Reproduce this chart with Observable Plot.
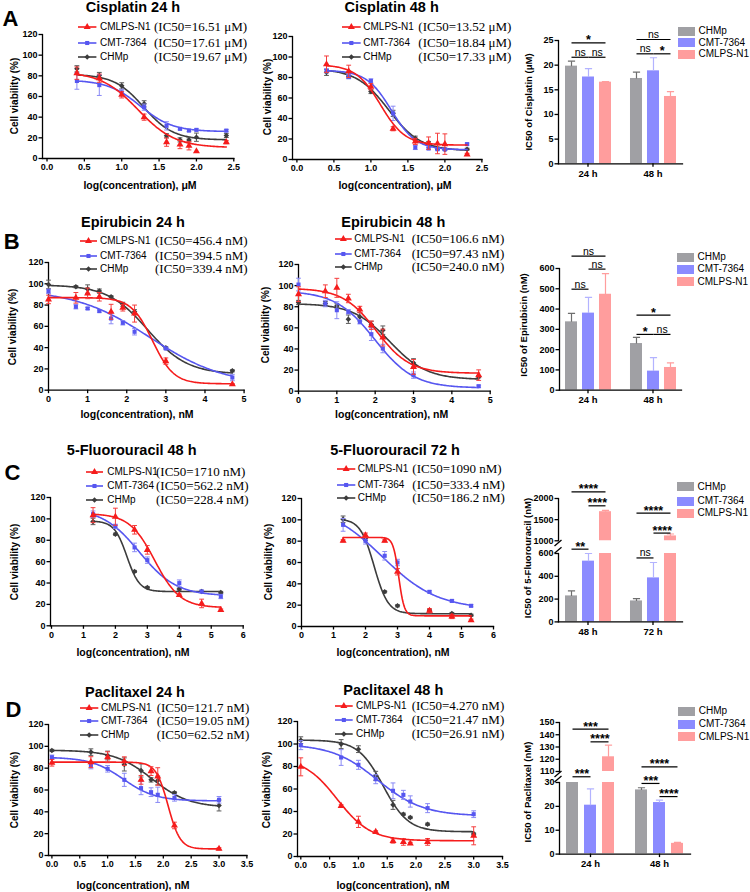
<!DOCTYPE html>
<html>
<head>
<meta charset="utf-8">
<script src="https://cdn.jsdelivr.net/npm/d3@7"></script>
<script src="https://cdn.jsdelivr.net/npm/@observablehq/plot@0.6"></script>
<style>
  html, body { margin: 0; padding: 0; background: #fff; }
  #fig { position: relative; width: 750px; height: 892px; overflow: hidden;
         font-family: "Liberation Sans", Arial, sans-serif; color: #000; }
  .abs { position: absolute; white-space: nowrap; line-height: 1; }
  .center { transform: translate(-50%, -50%); }
  .left { transform: translate(0, -50%); }
  .title { font-weight: bold; font-size: 14.5px; }
  .letter { font-weight: bold; font-size: 22px; }
  .ylab { font-weight: bold; font-size: 10px; transform: translate(-50%, -50%) rotate(-90deg); }
  .xlab { font-weight: bold; font-size: 10.5px; }
  .legname { font-size: 10px; }
  .ic { font-family: "Liberation Serif", "Times New Roman", serif; font-size: 13px; line-height: 0.85; }
  .panel { position: absolute; }
  .panel svg { overflow: visible; }
</style>
</head>
<body>
<div id="fig"></div>
<script>
// ---------------- series, doses, ticks ----------------
const lineSeries = ["CMLPS-N1", "CMT-7364", "CHMp"];
const barSeries = ["CHMp", "CMT-7364", "CMLPS-N1"];

const cisplatinDoses24 = [0.4, 0.7, 1.0, 1.3, 1.6, 1.78, 1.9, 2.0, 2.4];
const cisplatinDoses48 = [0.4, 0.7, 1.0, 1.3, 1.6, 1.78, 1.9, 2.0, 2.3];
const epirubicinDoses = [0, 0.7, 1.0, 1.3, 1.6, 1.9, 2.2, 3.0, 4.7];
const fluorouracilDoses = [1.3, 2.0, 2.6, 3.0, 4.0, 4.7, 5.3];
const paclitaxelDoses = [0, 0.7, 1.0, 1.3, 1.6, 1.78, 1.9, 2.2, 3.0];

const viabilityTicks = [0, 20, 40, 60, 80, 100, 120];
const cisplatinXTicks = [0, 0.5, 1, 1.5, 2, 2.5];
const epirubicinXTicks = [0, 1, 2, 3, 4, 5];
const fluorouracilXTicks = [0, 1, 2, 3, 4, 5, 6];
const paclitaxelXTicks = [0, 0.5, 1, 1.5, 2, 2.5, 3, 3.5];

// ---------------- viability (%), rows in lineSeries order ----------------
const cis24Mean = [
  [82.6, 77.7, 61.6, 40.0, 15.8, 13.5, 12.3, 7.0, 15.8],
  [75.0, 71.0, 64.0, 49.7, 31.6, 28.7, 27.0, 27.7, 27.0],
  [86.8, 80.3, 70.3, 52.9, 22.0, 18.0, 18.0, 20.6, 22.3]];
const cis24Sd = [
  [6, 4, 3, 3, 4, 4, 4, 0, 1.5],
  [8, 10, 3, 3, 4, 1, 1, 1, 1],
  [3, 3, 3, 3, 2, 2, 2, 4, 2]];
const cis24IC50 = ["16.51", "17.61", "19.67"];
const cis24Fit = [[84, 10.5, 1.75], [76, 26, 2.0], [81.5, 18, 2.2]]; // top, bottom, Hill slope

const cis48Mean = [
  [93.0, 86.0, 71.0, 30.0, 17.6, 16.0, 15.6, 15.0, 5.0],
  [86.5, 80.7, 76.7, 45.0, 11.7, 10.7, 10.0, 9.8, 15.0],
  [85.0, 81.3, 66.3, 45.0, 20.8, 15.6, 10.7, 9.8, 10.0]];
const cis48Sd = [
  [8, 6, 3, 2, 3, 6, 10, 10, 1],
  [2, 2, 2, 7, 2, 1, 1, 1, 1],
  [3, 2, 2, 3, 2, 2, 1, 1, 1]];
const cis48IC50 = ["13.52", "18.84", "17.33"];
const cis48Fit = [[92.5, 14, 2.6], [87, 9.5, 2.6], [88.5, 8.5, 2.0]];

const epi24Mean = [
  [85.3, 86.8, 91.0, 87.8, 73.7, 77.4, 72.0, 27.3, 5.6],
  [93.0, 78.4, 76.8, 74.3, 67.4, 63.3, 54.9, 39.2, 11.9],
  [99.4, 97.2, 95.0, 93.1, 87.8, 80.6, 73.7, 39.8, 18.2]];
const epi24Sd = [
  [4, 5, 5, 4, 7, 3, 8, 3, 0.5],
  [2, 2, 1, 1, 5, 2, 3, 1, 3],
  [4, 1, 4, 2, 1, 2, 2, 1, 1]];
const epi24IC50 = ["456.4", "394.5", "339.4"];
const epi24Fit = [[87, 6, 1.6], [95, 4, 0.45], [99, 15, 0.85]];

const epi48Mean = [
  [91.9, 94.7, 97.9, 87.8, 77.4, 62.5, 50.8, 23.0, 15.2],
  [101.0, 83.0, 76.7, 75.2, 65.7, 54.0, 40.4, 15.2, 4.7],
  [84.0, 83.0, 80.8, 68.2, 70.4, 63.2, 57.8, 26.8, 13.6]];
const epi48Sd = [
  [7, 6, 9, 4, 3, 4, 8, 7, 5],
  [6, 3, 8, 2, 2, 6, 4, 3, 1],
  [2, 2, 2, 4, 4, 3, 4, 4, 1]];
const epi48IC50 = ["106.6", "97.43", "240.0"];
const epi48Fit = [[97.5, 17, 1.0], [95, 3, 0.85], [83, 11, 0.9]];

const flu48Mean = [
  [103.5, 102.0, 89.8, 71.0, 28.7, 20.9, 14.7],
  [104.4, 93.0, 73.3, 61.4, 39.9, 32.1, 27.4],
  [97.6, 85.7, 50.8, 35.8, 34.3, 32.1, 31.2]];
const flu48Sd = [
  [7, 8, 4, 4, 1, 4, 1],
  [3, 2, 4, 3, 3, 1, 2],
  [3, 1, 1, 1, 1, 1, 1]];
const flu48IC50 = ["1710", "562.2", "228.4"];
const flu48Fit = [[105, 17, 1.1], [110, 28, 0.75], [98, 32, 2.2]];

const flu72Mean = [
  [80.3, 85.6, 80.3, 51.3, 14.7, 9.4, 5.9],
  [95.3, 80.3, 66.3, 60.0, 32.5, 24.0, 19.4],
  [100.6, 82.5, 32.5, 19.4, 15.3, 12.2, 10.6]];
const flu72Sd = [
  [1, 2, 1, 3, 2, 2, 1],
  [6, 3, 4, 3, 1, 1, 1],
  [3, 2, 1, 1, 1, 1, 1]];
const flu72IC50 = ["1090", "333.4", "186.2"];
const flu72Fit = [[83.5, 10, 5.0], [115, 16, 0.5], [101, 12, 2.0]];

const pax24Mean = [
  [84.9, 85.5, 90.0, 86.4, 69.3, 77.3, 72.4, 27.5, 6.1],
  [90.0, 82.4, 79.4, 69.3, 61.7, 58.0, 55.6, 52.8, 51.0],
  [96.2, 94.7, 91.6, 83.4, 77.9, 69.3, 68.7, 57.4, 45.8]];
const pax24Sd = [
  [3, 5, 5, 4, 4, 4, 8, 3, 1],
  [2, 3, 3, 6, 6, 4, 7, 3, 3],
  [1, 3, 4, 6, 6, 2, 4, 1, 5]];
const pax24IC50 = ["121.7", "19.05", "62.52"];
const pax24Fit = [[85.5, 6, 4.0], [90, 50, 1.5], [96.5, 44, 1.3]];

const pax48Mean = [
  [79.7, 45.0, 30.8, 21.9, 13.9, 13.0, 11.6, 13.0, 18.4],
  [99.0, 88.0, 81.5, 68.7, 58.4, 54.8, 48.9, 43.0, 37.6],
  [103.4, 99.9, 95.4, 71.7, 45.9, 37.6, 34.7, 28.7, 20.0]];
const pax48Sd = [
  [8, 1, 5, 1, 2, 3, 1, 3, 8],
  [4, 7, 4, 4, 7, 4, 5, 4, 3],
  [3, 4, 3, 4, 4, 1, 1, 1, 1]];
const pax48IC50 = ["4.270", "21.47", "26.91"];
const pax48Fit = [[88, 14, 1.5], [100, 36, 1.1], [103.5, 22, 2.0]];

// ---------------- IC50 bar summaries, rows per time point in barSeries order ----------------
const cisTimes = ["24 h", "48 h"];
const cisBarMean = [[19.8, 17.6, 16.55], [17.3, 18.85, 13.65]];
const cisBarSd = [[1.0, 1.7, 0.1], [1.3, 2.65, 1.0]];
const cisBarTicks = [0, 5, 10, 15, 20, 25];

const epiTimes = ["24 h", "48 h"];
const epiBarMean = [[337, 380, 473], [230, 94, 112]];
const epiBarSd = [[42, 78, 102], [30, 67, 23]];
const epiBarTicks = [0, 100, 200, 300, 400, 500, 600];

const fluTimes = ["48 h", "72 h"];
const fluBarMean = [[228, 533, 1688], [184, 386, 1115]];
const fluBarSd = [[44, 67, 30], [20, 135, 45]];
const fluBarTicksLow = [0, 200, 400, 600];
const fluBarTicksHigh = [1000, 1500, 2000];

const paxTimes = ["24 h", "48 h"];
const paxBarMean = [[62.52, 20.5, 122], [26.9, 21.6, 4.5]];
const paxBarSd = [[0, 6.8, 9.5], [0.9, 1.0, 0.4]];
const paxBarTicksLow = [0, 10, 20, 30];
const paxBarTicksHigh = [110, 120, 130, 140, 150];

// significance brackets: time, from, to, height, label
const cisBrackets = [
  ["24 h", "CHMp", "CMLPS-N1", 24.5, "*"], ["24 h", "CHMp", "CMT-7364", 21.6, "ns"], ["24 h", "CMT-7364", "CMLPS-N1", 21.6, "ns"],
  ["48 h", "CHMp", "CMLPS-N1", 25.2, "ns"], ["48 h", "CHMp", "CMT-7364", 22.3, "ns"], ["48 h", "CMT-7364", "CMLPS-N1", 22.3, "*"]];
const epiBrackets = [
  ["24 h", "CHMp", "CMLPS-N1", 661, "ns"], ["24 h", "CMT-7364", "CMLPS-N1", 597, "ns"], ["24 h", "CHMp", "CMT-7364", 498, "ns"],
  ["48 h", "CHMp", "CMLPS-N1", 370, "*"], ["48 h", "CHMp", "CMT-7364", 275, "*"], ["48 h", "CMT-7364", "CMLPS-N1", 275, "ns"]];
const fluBracketsHigh = [
  ["48 h", "CHMp", "CMLPS-N1", 2158, "****"], ["48 h", "CMT-7364", "CMLPS-N1", 1827, "****"],
  ["72 h", "CHMp", "CMLPS-N1", 1655, "****"], ["72 h", "CMT-7364", "CMLPS-N1", 1182, "****"]];
const fluBracketsLow = [["48 h", "CHMp", "CMT-7364", 638, "**"], ["72 h", "CHMp", "CMT-7364", 561, "ns"]];
const paxBracketsHigh = [
  ["24 h", "CHMp", "CMLPS-N1", 144.6, "***"], ["24 h", "CMT-7364", "CMLPS-N1", 134.2, "****"],
  ["48 h", "CHMp", "CMLPS-N1", 113.8, "****"]];
const paxBracketsLow = [
  ["24 h", "CHMp", "CMT-7364", 32.4, "***"], ["48 h", "CHMp", "CMT-7364", 29.6, "***"], ["48 h", "CMT-7364", "CMLPS-N1", 24.1, "****"]];

// ---------------- styling ----------------
const lineColors = ["#f51c1c", "#5656f0", "#3c3c3c"];
const errColors = ["#f53c3c", "#8a8af5", "#5a5a5a"];
const lineSymbols = ["triangle", "square", "diamond2"];
const d3Symbols = [d3.symbolTriangle, d3.symbolSquare, d3.symbolDiamond2];
const markerR = [2.6, 2.3, 2.5];
const barColors = ["#a0a0a4", "#8b8bff", "#ff9d9d"];
const barErrColors = ["#6e6e6e", "#b3b3ff", "#ff9d9d"];
const FONT = "'Liberation Sans', Arial, sans-serif";
const BAR_PAD_INNER = 0.31, BAR_PAD_OUTER = 0.32;

// horizontal cap for error bars
const capSymbol = {draw(ctx, size) { const w = Math.sqrt(size / Math.PI); ctx.moveTo(-w, 0); ctx.lineTo(w, 0); }};

const fig = document.getElementById("fig");
function text(str, x, y, cls, style = {}) {
  const el = document.createElement("div");
  el.className = "abs " + cls;
  el.textContent = str;
  el.style.left = x + "px";
  el.style.top = y + "px";
  Object.assign(el.style, style);
  fig.appendChild(el);
  return el;
}
function mount(svg, left, top, width) {
  const div = document.createElement("div");
  div.className = "panel";
  div.style.left = left + "px";
  div.style.top = top + "px";
  div.style.width = width + "px";
  div.appendChild(svg);
  fig.appendChild(div);
}
const plotStyle = {fontFamily: FONT, fontSize: "9px", fontWeight: "bold", color: "#000",
  background: "transparent", overflow: "visible", maxWidth: "none"};

// ---------------- dose–response panel ----------------
function dosePanel(cfg) {
  const f = cfg.frame;
  const ml = 30, mr = 12, mt = 6, mb = 22;
  const width = ml + f.right - f.left + mr, height = mt + f.bottom - f.top + mb;
  const points = lineSeries.map((s, k) => cfg.doses.map((x, i) => ({x, y: cfg.means[k][i], sd: cfg.sds[k][i]})));
  const curves = lineSeries.map((s, k) => {
    const [top, bottom, hill] = cfg.fits[k];
    const logIC50 = Math.log10(+cfg.ic50[k]);
    const lo = cfg.doses[0], hi = cfg.doses[cfg.doses.length - 1];
    return d3.range(161).map(j => {
      const x = lo + (hi - lo) * j / 160;
      return {x, y: bottom + (top - bottom) / (1 + 10 ** (hill * (x - logIC50)))};
    });
  });
  const marks = [
    Plot.frame({anchor: "left", strokeWidth: 1.3}),
    Plot.frame({anchor: "bottom", strokeWidth: 1.3}),
    Plot.axisX({ticks: cfg.xTicks, tickFormat: cfg.xFormat, tickSize: 3.5, tickPadding: 2, strokeWidth: 1.3, label: null}),
    Plot.axisY({ticks: viabilityTicks, tickSize: 3.5, tickPadding: 1.5, strokeWidth: 1.3, label: null})
  ];
  for (const k of [2, 1, 0]) {
    const pts = points[k].filter(d => d.sd > 0);
    marks.push(
      Plot.line(curves[k], {x: "x", y: "y", stroke: lineColors[k], strokeWidth: 1.6}),
      Plot.link(pts, {x1: "x", x2: "x", y1: d => d.y - d.sd, y2: d => d.y + d.sd, stroke: errColors[k], strokeWidth: 1}),
      Plot.dot(pts.flatMap(d => [{x: d.x, y: d.y - d.sd}, {x: d.x, y: d.y + d.sd}]),
        {x: "x", y: "y", symbol: capSymbol, r: 2.4, stroke: errColors[k], fill: "none", strokeWidth: 1}),
      Plot.dot(points[k], {x: "x", y: "y", symbol: lineSymbols[k], r: markerR[k], fill: lineColors[k], stroke: "none"})
    );
  }
  const svg = Plot.plot({
    width, height, marginLeft: ml, marginRight: mr, marginTop: mt, marginBottom: mb,
    style: plotStyle,
    x: {domain: [0, cfg.xMax], insetLeft: f.x0 - f.left},
    y: {domain: [0, 120]},
    marks
  });
  mount(svg, f.left - ml, f.top - mt, width);

  text(cfg.title, cfg.titleAt[0], cfg.titleAt[1], "center title");
  text(cfg.xLabel, cfg.xLabelAt[0], cfg.xLabelAt[1], "center xlab");
  text("Cell viability (%)", cfg.yLabelAt[0], cfg.yLabelAt[1], "ylab");
  const lg = cfg.legend;
  lineSeries.forEach((s, k) => {
    const y = lg.rows[k];
    const w = lg.lineX2 - lg.lineX;
    const sw = d3.create("svg").attr("width", w).attr("height", 10)
      .style("position", "absolute").style("left", lg.lineX + "px").style("top", (y - 5) + "px").style("overflow", "visible");
    sw.append("line").attr("x1", 0).attr("x2", w).attr("y1", 5).attr("y2", 5)
      .attr("stroke", lineColors[k]).attr("stroke-width", 1.6);
    sw.append("path").attr("d", d3.symbol(d3Symbols[k], Math.PI * markerR[k] ** 2)())
      .attr("transform", `translate(${w / 2},5)`).attr("fill", lineColors[k]);
    fig.appendChild(sw.node());
    text(s, lg.nameX, y, "left legname");
    text(`(IC50=${cfg.ic50[k]} ${cfg.unit})`, lg.icX, y, "left ic");
  });
}

// ---------------- IC50 bar panel (one y segment) ----------------
function barPanel(cfg) {
  const f = cfg.frame;
  const ml = 30, mr = 8, mt = 6, mb = cfg.groupAxis ? 22 : 4;
  const width = ml + f.right - f.left + mr, height = mt + f.bottom - f.top + mb;
  const rows = cfg.groups.flatMap((g, gi) => barSeries.map((s, k) => ({group: g, series: s, k, value: cfg.means[gi][k], sd: cfg.sds[gi][k]})));
  const W = f.right - f.left;
  const fxStep = W / (2 - cfg.fxPad);
  const xStep = fxStep * (1 - cfg.fxPad) / (3 - BAR_PAD_INNER + 2 * BAR_PAD_OUTER);
  const marks = [];
  barSeries.forEach((s, k) => {
    const r = rows.filter(d => d.k === k);
    const e = r.filter(d => d.sd > 0);
    marks.push(
      Plot.barY(r, {fx: "group", x: "series", y: "value", fill: barColors[k], clip: true}),
      Plot.link(e, {fx: "group", x1: "series", x2: "series", y1: "value", y2: d => d.value + d.sd, stroke: barErrColors[k], strokeWidth: 1.2, clip: true}),
      Plot.dot(e, {fx: "group", x: "series", y: d => d.value + d.sd, symbol: capSymbol, r: 3.6, stroke: barErrColors[k], fill: "none", strokeWidth: 1.2, clip: true})
    );
  });
  marks.push(
    Plot.frame({anchor: "left", facet: "super", strokeWidth: 1.3}),
    Plot.axisY({ticks: cfg.yTicks, tickFormat: "d", tickSize: 3.5, tickPadding: 1.5, strokeWidth: 1.3, label: null})
  );
  if (cfg.groupAxis) marks.push(
    Plot.frame({anchor: "bottom", facet: "super", strokeWidth: 1.3}),
    Plot.axisFx({anchor: "bottom", tickSize: 3.5, tickPadding: 2.5, strokeWidth: 1.3, label: null, fontSize: 9.5})
  );
  const br = cfg.brackets.map(([group, from, to, y, label]) =>
    ({group, from, to, y, label, span: barSeries.indexOf(to) - barSeries.indexOf(from)}));
  marks.push(Plot.link(br, {fx: "group", x1: "from", x2: "to", y1: "y", y2: "y", stroke: "#000", strokeWidth: 1.2}));
  for (const span of [1, 2]) {
    for (const stars of [false, true]) {
      const sel = br.filter(d => d.span === span && (d.label !== "ns") === stars);
      if (!sel.length) continue;
      marks.push(Plot.text(sel, {
        fx: "group", x: span === 2 ? () => barSeries[1] : "from", y: "y", text: "label",
        dx: span === 2 ? 0 : xStep / 2, dy: stars ? 1.5 : -1.5, lineAnchor: "bottom",
        fontSize: stars ? 12.5 : 10.5, fontWeight: stars ? "bold" : "normal"
      }));
    }
  }
  const svg = Plot.plot({
    width, height, marginLeft: ml, marginRight: mr, marginTop: mt, marginBottom: mb,
    style: plotStyle,
    fx: {domain: cfg.groups, paddingInner: cfg.fxPad, paddingOuter: 0, axis: null, label: null},
    x: {domain: barSeries, paddingInner: BAR_PAD_INNER, paddingOuter: BAR_PAD_OUTER, axis: null},
    y: {domain: cfg.yDomain},
    marks
  });
  mount(svg, f.left - ml, f.top - mt, width);
}

function barLegend(x, rows) {
  barSeries.forEach((s, k) => {
    const sw = document.createElement("div");
    Object.assign(sw.style, {position: "absolute", left: x + "px", top: (rows[k] - 4.5) + "px",
      width: "17px", height: "9px", background: barColors[k]});
    fig.appendChild(sw);
    text(s, x + 20.5, rows[k], "left legname");
  });
}

function axisBreak(x, yUpper, yLower) {
  const s = d3.create("svg").attr("width", 12).attr("height", yLower - yUpper + 8)
    .style("position", "absolute").style("left", (x - 6) + "px").style("top", (yUpper - 4) + "px");
  for (const y of [4 + 3, yLower - yUpper + 4 - 3]) {
    s.append("line").attr("x1", 2.5).attr("x2", 9.5).attr("y1", y + 3).attr("y2", y - 3)
      .attr("stroke", "#000").attr("stroke-width", 1.3);
  }
  fig.appendChild(s.node());
}

// ---------------- row letters ----------------
text("A", 10.5, 19, "center letter");
text("B", 11.7, 241.5, "center letter");
text("C", 12.5, 472.5, "center letter");
text("D", 13.5, 710, "center letter");

// ---------------- row A: cisplatin ----------------
dosePanel({doses: cisplatinDoses24, means: cis24Mean, sds: cis24Sd, ic50: cis24IC50, fits: cis24Fit,
  xMax: 2.5, xTicks: cisplatinXTicks, xFormat: ".1f", unit: "μM",
  frame: {left: 42, x0: 46.5, right: 233.3, top: 34, bottom: 158},
  title: "Cisplatin 24 h", titleAt: [133, 7.3], xLabel: "log(concentration), μM", xLabelAt: [140, 185], yLabelAt: [15, 96],
  legend: {lineX: 78.3, lineX2: 96.7, nameX: 100, icX: 154, rows: [26.7, 42.7, 57.3]}});
dosePanel({doses: cisplatinDoses48, means: cis48Mean, sds: cis48Sd, ic50: cis48IC50, fits: cis48Fit,
  xMax: 2.5, xTicks: cisplatinXTicks, xFormat: ".1f", unit: "μM",
  frame: {left: 292.3, x0: 296.7, right: 481.7, top: 35.7, bottom: 158.7},
  title: "Cisplatin 48 h", titleAt: [391.7, 7.3], xLabel: "log(concentration), μM", xLabelAt: [395, 185], yLabelAt: [267.7, 96.7],
  legend: {lineX: 342.3, lineX2: 361, nameX: 363.3, icX: 418.3, rows: [27.3, 42.7, 57.3]}});
barPanel({groups: cisTimes, means: cisBarMean, sds: cisBarSd, yDomain: [0, 25], yTicks: cisBarTicks,
  frame: {left: 558.3, right: 682, top: 40, bottom: 163.3}, fxPad: 0.1, groupAxis: true, brackets: cisBrackets});
text("IC50 of Cisplatin (μM)", 529, 101.7, "ylab", {fontSize: "9.5px"});
barLegend(678, [31, 42.7, 54]);

// ---------------- row B: epirubicin ----------------
dosePanel({doses: epirubicinDoses, means: epi24Mean, sds: epi24Sd, ic50: epi24IC50, fits: epi24Fit,
  xMax: 5, xTicks: epirubicinXTicks, xFormat: "d", unit: "nM",
  frame: {left: 47.7, x0: 47.7, right: 243.3, top: 262.3, bottom: 390},
  title: "Epirubicin 24 h", titleAt: [133, 222], xLabel: "log(concentration), nM", xLabelAt: [137, 414], yLabelAt: [13, 327],
  legend: {lineX: 80, lineX2: 97, nameX: 100, icX: 155, rows: [240.7, 255.7, 269.3]}});
dosePanel({doses: epirubicinDoses, means: epi48Mean, sds: epi48Sd, ic50: epi48IC50, fits: epi48Fit,
  xMax: 5, xTicks: epirubicinXTicks, xFormat: "d", unit: "nM",
  frame: {left: 298.3, x0: 298.3, right: 490, top: 264.3, bottom: 391},
  title: "Epirubicin 48 h", titleAt: [393.3, 222], xLabel: "log(concentration), nM", xLabelAt: [391.7, 414.3], yLabelAt: [266, 325],
  legend: {lineX: 335, lineX2: 351.7, nameX: 354.3, icX: 411.7, rows: [239.3, 254, 267.3]}});
barPanel({groups: epiTimes, means: epiBarMean, sds: epiBarSd, yDomain: [0, 600], yTicks: epiBarTicks,
  frame: {left: 559.3, right: 682, top: 268.3, bottom: 390}, fxPad: 0.12, groupAxis: true, brackets: epiBrackets});
text("IC50 of Epirubicin (nM)", 524.3, 325, "ylab", {fontSize: "9.5px"});
barLegend(677, [257.3, 269.3, 281.7]);

// ---------------- row C: 5-fluorouracil ----------------
dosePanel({doses: fluorouracilDoses, means: flu48Mean, sds: flu48Sd, ic50: flu48IC50, fits: flu48Fit,
  xMax: 6, xTicks: fluorouracilXTicks, xFormat: "d", unit: "nM",
  frame: {left: 50, x0: 51, right: 242.7, top: 496.7, bottom: 625},
  title: "5-Fluorouracil 48 h", titleAt: [131.7, 450], xLabel: "log(concentration), nM", xLabelAt: [133, 651.7], yLabelAt: [15, 561.7],
  legend: {lineX: 86, lineX2: 103, nameX: 107.3, icX: 156, rows: [471.7, 486, 500]}});
dosePanel({doses: fluorouracilDoses, means: flu72Mean, sds: flu72Sd, ic50: flu72IC50, fits: flu72Fit,
  xMax: 6, xTicks: fluorouracilXTicks, xFormat: "d", unit: "nM",
  frame: {left: 300.7, x0: 300.7, right: 492.7, top: 497.7, bottom: 625.7},
  title: "5-Fluorouracil 72 h", titleAt: [395, 450], xLabel: "log(concentration), nM", xLabelAt: [393, 651.7], yLabelAt: [269.3, 561.7],
  legend: {lineX: 336.7, lineX2: 355, nameX: 357.7, icX: 412.3, rows: [469.3, 485, 498.3]}});
barPanel({groups: fluTimes, means: fluBarMean, sds: fluBarSd, yDomain: [1000, 2000], yTicks: fluBarTicksHigh,
  frame: {left: 558.3, right: 682, top: 497.7, bottom: 540}, fxPad: 0.1, groupAxis: false, brackets: fluBracketsHigh});
barPanel({groups: fluTimes, means: fluBarMean, sds: fluBarSd, yDomain: [0, 600], yTicks: fluBarTicksLow,
  frame: {left: 558.3, right: 682, top: 553.3, bottom: 621.7}, fxPad: 0.1, groupAxis: true, brackets: fluBracketsLow});
axisBreak(558.3, 540, 553.3);
text("IC50 of 5-Fluorouracil (nM)", 527.7, 558, "ylab", {fontSize: "9.5px"});
barLegend(677, [486.7, 501, 513.3]);

// ---------------- row D: paclitaxel ----------------
dosePanel({doses: paclitaxelDoses, means: pax24Mean, sds: pax24Sd, ic50: pax24IC50, fits: pax24Fit,
  xMax: 3.5, xTicks: paclitaxelXTicks, xFormat: ".1f", unit: "nM",
  frame: {left: 48.3, x0: 51.7, right: 246.7, top: 724, bottom: 855},
  title: "Paclitaxel 24 h", titleAt: [135, 691.7], xLabel: "log(concentration), nM", xLabelAt: [133, 885], yLabelAt: [15, 790],
  legend: {lineX: 80, lineX2: 98.3, nameX: 101, icX: 156.7, rows: [707.5, 721, 734.5]}});
dosePanel({doses: paclitaxelDoses, means: pax48Mean, sds: pax48Sd, ic50: pax48IC50, fits: pax48Fit,
  xMax: 3.5, xTicks: paclitaxelXTicks, xFormat: ".1f", unit: "nM",
  frame: {left: 296.7, x0: 300, right: 501.7, top: 720.7, bottom: 855.7},
  title: "Paclitaxel 48 h", titleAt: [393.3, 690], xLabel: "log(concentration), nM", xLabelAt: [393, 885], yLabelAt: [266.7, 790],
  legend: {lineX: 335, lineX2: 352.7, nameX: 356, icX: 411.7, rows: [705.7, 720, 734.3]}});
barPanel({groups: paxTimes, means: paxBarMean, sds: paxBarSd, yDomain: [110, 150], yTicks: paxBarTicksHigh,
  frame: {left: 557.7, right: 690, top: 721.7, bottom: 770.7}, fxPad: 0.1, groupAxis: false, brackets: paxBracketsHigh});
barPanel({groups: paxTimes, means: paxBarMean, sds: paxBarSd, yDomain: [0, 30], yTicks: paxBarTicksLow,
  frame: {left: 557.7, right: 690, top: 781.7, bottom: 853.3}, fxPad: 0.1, groupAxis: true, brackets: paxBracketsLow});
axisBreak(557.7, 770.7, 781.7);
text("IC50 of Paclitaxel (nM)", 527.7, 791.7, "ylab", {fontSize: "9.5px"});
barLegend(678.3, [711, 724.3, 736.7]);
</script>
</body>
</html>
